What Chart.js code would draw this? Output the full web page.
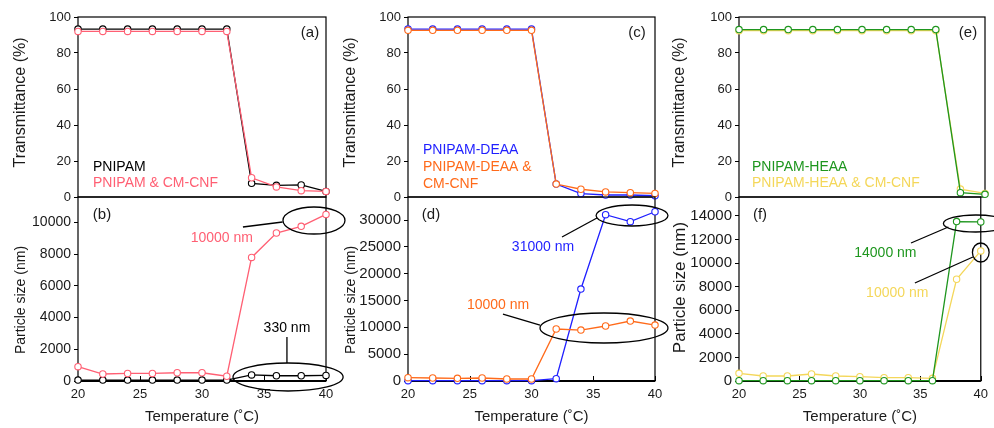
<!DOCTYPE html>
<html><head><meta charset="utf-8">
<script src="https://cdn.jsdelivr.net/npm/chart.js@4.4.0/dist/chart.umd.min.js"></script>
<style>
html,body{margin:0;padding:0;background:#fff;width:994px;height:428px;overflow:hidden}
canvas{position:absolute;left:0;top:0}
</style></head><body>
<canvas id="ca" width="994" height="428"></canvas>
<canvas id="cb" width="994" height="428"></canvas>
<canvas id="cc" width="994" height="428"></canvas>
<canvas id="cd" width="994" height="428"></canvas>
<canvas id="ce" width="994" height="428"></canvas>
<canvas id="cf" width="994" height="428"></canvas>
<script>
// ---------- data ----------
const temps = [20, 22, 24, 26, 28, 30, 32, 34, 36, 38, 40];
const xTickValues = [20, 25, 30, 35, 40];
const transTicks = [0, 20, 40, 60, 80, 100];
const sizeTicksB = [0, 2000, 4000, 6000, 8000, 10000];
const sizeTicksD = [0, 5000, 10000, 15000, 20000, 25000, 30000];
const sizeTicksF = [0, 2000, 4000, 6000, 8000, 10000, 12000, 14000];

const transPNIPAM      = [93.3, 93.3, 93.3, 93.3, 93.3, 93.3, 93.3, 7.6, 6.5, 6.7, 3.1];
const transPNIPAM_CNF  = [92.0, 92.0, 92.0, 92.0, 92.0, 92.0, 92.0, 10.7, 5.6, 3.5, 3.1];
const sizePNIPAM       = [60, 60, 60, 60, 60, 60, 60, 380, 330, 330, 350];
const sizePNIPAM_CNF   = [905, 440, 480, 480, 520, 520, 300, 7790, 9330, 9750, 10500];

const transDEAA        = [93.3, 93.3, 93.3, 93.3, 93.3, 93.3, 7.2, 1.9, 1.1, 1.1, 0.7];
const transDEAA_CNF    = [92.6, 92.6, 92.6, 92.6, 92.6, 92.6, 7.2, 4.3, 2.8, 2.4, 2.0];
const sizeDEAA         = [60, 60, 60, 60, 60, 60, 430, 17140, 31000, 29700, 31550];
const sizeDEAA_CNF     = [620, 560, 500, 560, 370, 370, 9690, 9500, 10250, 11180, 10430];

const transHEAA        = [93.0, 93.0, 93.0, 93.0, 93.0, 93.0, 93.0, 93.0, 93.0, 2.4, 1.5];
const transHEAA_CNF    = [92.4, 92.4, 92.4, 92.4, 92.4, 92.4, 92.4, 92.4, 92.4, 4.4, 2.0];
const sizeHEAA         = [30, 30, 30, 30, 30, 30, 30, 30, 30, 13520, 13490];
const sizeHEAA_CNF     = [650, 424, 424, 594, 424, 368, 283, 283, 226, 8625, 11030];

// ---------- styling ----------
const FONT = "'Liberation Sans', Arial, Helvetica, sans-serif";
const TXT = '#1a1a1a';
const C_BLACK = '#000000', C_PINK = '#ff5f73', C_BLUE = '#1f1fff',
      C_ORANGE = '#ff6a1a', C_GREEN = '#1e961e', C_YELLOW = '#f4d75a';

Chart.defaults.font.family = FONT;
Chart.defaults.color = TXT;
Chart.defaults.animation = false;

const W = 994, H = 428;
const COLS = [
  {x0: 0,   left: 78,  right: 326, titleDx: 57},
  {x0: 330, left: 408, right: 655, titleDx: 57},
  {x0: 660, left: 739, right: 985, titleDx: 59}
];
const ROWS = { top: {top: 17, bottom: 197}, bottom: {top: 197, bottom: 381} };

function decor(p) {
  return {
    id: 'decor_' + p.id,
    beforeDatasetsDraw(chart) {
      const {ctx, chartArea: a} = chart;
      ctx.save();
      ctx.strokeStyle = '#000';
      ctx.lineWidth = 1.2;
      ctx.strokeRect(a.left, a.top, a.right - a.left, a.bottom - a.top);
      if (p.row === 'bottom') {
        ctx.lineWidth = 2;
        ctx.beginPath(); ctx.moveTo(a.left, a.bottom); ctx.lineTo(a.right, a.bottom); ctx.stroke();
        ctx.lineWidth = 1;
        const xs = chart.scales.x;
        xTickValues.forEach(v => {
          const px = Math.round(xs.getPixelForValue(v)) + 0.5;
          ctx.beginPath(); ctx.moveTo(px, a.bottom); ctx.lineTo(px, a.bottom - 5); ctx.stroke();
        });
      }
      ctx.restore();
    },
    afterDraw(chart) {
      const {ctx, chartArea: a} = chart;
      const xs = chart.scales.x, ys = chart.scales.y;
      const col = COLS[p.col];
      ctx.save();
      ctx.fillStyle = TXT;
      ctx.font = p.yTitleSize + 'px ' + FONT;
      ctx.textAlign = 'center'; ctx.textBaseline = 'middle';
      ctx.translate(a.left - col.titleDx, (a.top + a.bottom) / 2 + p.yTitleShift);
      ctx.rotate(-Math.PI / 2);
      ctx.fillText(p.yTitle, 0, 0);
      ctx.restore();

      ctx.save();
      ctx.fillStyle = TXT;
      ctx.font = '15px ' + FONT;
      ctx.textAlign = 'center'; ctx.textBaseline = 'middle';
      const lx = p.label.fromRight ? a.right - p.label.dx : a.left + p.label.dx;
      ctx.fillText(p.label.text, lx, a.top + p.label.dy);
      ctx.font = '14px ' + FONT;
      ctx.textAlign = 'left';
      (p.legend || []).forEach(l => {
        ctx.fillStyle = l.color;
        ctx.fillText(l.text, a.left + l.dx, a.top + l.dy);
      });
      ctx.strokeStyle = '#000';
      ctx.lineWidth = 1.3;
      (p.notes || []).forEach(n => {
        if (n.type === 'ellipse') {
          const cx = xs.getPixelForValue(n.x), cy = ys.getPixelForValue(n.y);
          const rx = Math.abs(xs.getPixelForValue(n.x + n.rx) - cx);
          const ry = Math.abs(ys.getPixelForValue(n.y + n.ry) - cy);
          ctx.beginPath(); ctx.ellipse(cx, cy, rx, ry, 0, 0, Math.PI * 2); ctx.stroke();
        } else if (n.type === 'line') {
          ctx.beginPath();
          ctx.moveTo(xs.getPixelForValue(n.x1), ys.getPixelForValue(n.y1));
          ctx.lineTo(xs.getPixelForValue(n.x2), ys.getPixelForValue(n.y2));
          ctx.stroke();
        } else if (n.type === 'text') {
          ctx.fillStyle = n.color;
          ctx.font = '14px ' + FONT;
          ctx.textAlign = 'center';
          ctx.fillText(n.text, xs.getPixelForValue(n.x), ys.getPixelForValue(n.y));
        }
      });
      ctx.restore();
    }
  };
}

function makePanel(p) {
  const col = COLS[p.col];
  const row = ROWS[p.row];
  const isTop = p.row === 'top';
  const datasets = p.series.map(s => ({
    label: s.label,
    data: temps.map((t, i) => ({x: t, y: s.values[i]})),
    borderColor: s.color,
    backgroundColor: '#ffffff',
    pointBackgroundColor: '#ffffff',
    pointBorderColor: s.color,
    pointRadius: 3.2,
    pointBorderWidth: 1.1,
    borderWidth: 1.3,
    tension: 0,
    clip: false,
    order: s.order
  }));
  return new Chart(document.getElementById(p.id), {
    type: 'line',
    data: {datasets},
    options: {
      responsive: false,
      animation: false,
      events: [],
      layout: {padding: {left: col.x0, right: W - col.right, top: row.top, bottom: isTop ? H - row.bottom : 0}},
      plugins: {legend: {display: false}, tooltip: {enabled: false}},
      scales: {
        x: {
          type: 'linear', min: 20, max: 40, display: !isTop,
          ticks: {stepSize: 5, font: {size: 13}, padding: 6, color: TXT, maxRotation: 0, autoSkip: false,
                  callback: v => String(v)},
          grid: {display: false, drawTicks: false},
          border: {display: false},
          title: {display: true, text: 'Temperature (˚C)', font: {size: 15, lineHeight: 1.2}, color: TXT, padding: {top: 0, bottom: 2}},
          afterBuildTicks: s => { s.ticks = xTickValues.map(v => ({value: v})); },
          afterFit: s => { if (!isTop) s.height = H - row.bottom; }
        },
        y: {
          type: 'linear', min: 0, max: p.yMax,
          ticks: {font: {size: p.yTickSize}, padding: 3, color: TXT, callback: v => String(v)},
          grid: {drawOnChartArea: false, drawTicks: true, tickLength: 4, color: '#000'},
          border: {display: false},
          afterBuildTicks: s => { s.ticks = p.yTicks.map(v => ({value: v})); },
          afterFit: s => { s.width = col.left - col.x0; }
        }
      }
    },
    plugins: [decor(p)]
  });
}

// (a)
makePanel({
  id: 'ca', col: 0, row: 'top', yMax: 100, yTicks: transTicks, yTickSize: 13,
  yTitle: 'Transmittance (%)', yTitleSize: 16, yTitleShift: -4.5,
  label: {text: '(a)', fromRight: true, dx: 16, dy: 16},
  legend: [
    {text: 'PNIPAM', color: C_BLACK, dx: 15, dy: 150},
    {text: 'PNIPAM & CM-CNF', color: C_PINK, dx: 15, dy: 166}
  ],
  series: [
    {label: 'PNIPAM', values: transPNIPAM, color: C_BLACK, order: 2},
    {label: 'PNIPAM & CM-CNF', values: transPNIPAM_CNF, color: C_PINK, order: 1}
  ]
});
// (b)
makePanel({
  id: 'cb', col: 0, row: 'bottom', yMax: 11600, yTicks: sizeTicksB, yTickSize: 14,
  yTitle: 'Particle size (nm)', yTitleSize: 14, yTitleShift: 11,
  label: {text: '(b)', fromRight: false, dx: 24, dy: 18},
  notes: [
    {type: 'text', text: '10000 nm', color: C_PINK, x: 31.6, y: 9015},
    {type: 'line', x1: 33.3, y1: 9708, x2: 36.5, y2: 10023},
    {type: 'ellipse', x: 39.03, y: 10118, rx: 2.5, ry: 851},
    {type: 'text', text: '330 nm', color: C_BLACK, x: 36.85, y: 3341},
    {type: 'line', x1: 36.85, y1: 2774, x2: 36.85, y2: 1135},
    {type: 'ellipse', x: 36.94, y: 252, rx: 4.44, ry: 883}
  ],
  series: [
    {label: 'PNIPAM', values: sizePNIPAM, color: C_BLACK, order: 2},
    {label: 'PNIPAM & CM-CNF', values: sizePNIPAM_CNF, color: C_PINK, order: 1}
  ]
});
// (c)
makePanel({
  id: 'cc', col: 1, row: 'top', yMax: 100, yTicks: transTicks, yTickSize: 13,
  yTitle: 'Transmittance (%)', yTitleSize: 16, yTitleShift: -4.5,
  label: {text: '(c)', fromRight: true, dx: 18, dy: 16},
  legend: [
    {text: 'PNIPAM-DEAA', color: C_BLUE, dx: 15, dy: 133},
    {text: 'PNIPAM-DEAA &', color: C_ORANGE, dx: 15, dy: 150},
    {text: 'CM-CNF', color: C_ORANGE, dx: 15, dy: 167}
  ],
  series: [
    {label: 'PNIPAM-DEAA', values: transDEAA, color: C_BLUE, order: 2},
    {label: 'PNIPAM-DEAA & CM-CNF', values: transDEAA_CNF, color: C_ORANGE, order: 1}
  ]
});
// (d)
makePanel({
  id: 'cd', col: 1, row: 'bottom', yMax: 34300, yTicks: sizeTicksD, yTickSize: 15,
  yTitle: 'Particle size (nm)', yTitleSize: 14, yTitleShift: 11,
  label: {text: '(d)', fromRight: false, dx: 23, dy: 18},
  notes: [
    {type: 'text', text: '31000 nm', color: C_BLUE, x: 30.93, y: 24978},
    {type: 'line', x1: 32.47, y1: 26842, x2: 35.30, y2: 30383},
    {type: 'ellipse', x: 38.14, y: 30849, rx: 2.91, ry: 1957},
    {type: 'text', text: '10000 nm', color: C_ORANGE, x: 27.29, y: 14166},
    {type: 'line', x1: 27.69, y1: 12489, x2: 30.69, y2: 10438},
    {type: 'ellipse', x: 35.87, y: 9879, rx: 5.18, ry: 2796}
  ],
  series: [
    {label: 'PNIPAM-DEAA', values: sizeDEAA, color: C_BLUE, order: 2},
    {label: 'PNIPAM-DEAA & CM-CNF', values: sizeDEAA_CNF, color: C_ORANGE, order: 1}
  ]
});
// (e)
makePanel({
  id: 'ce', col: 2, row: 'top', yMax: 100, yTicks: transTicks, yTickSize: 13,
  yTitle: 'Transmittance (%)', yTitleSize: 16, yTitleShift: -4.5,
  label: {text: '(e)', fromRight: true, dx: 17, dy: 16},
  legend: [
    {text: 'PNIPAM-HEAA', color: C_GREEN, dx: 13, dy: 150},
    {text: 'PNIPAM-HEAA & CM-CNF', color: C_YELLOW, dx: 13, dy: 166}
  ],
  series: [
    {label: 'PNIPAM-HEAA', values: transHEAA, color: C_GREEN, order: 1},
    {label: 'PNIPAM-HEAA & CM-CNF', values: transHEAA_CNF, color: C_YELLOW, order: 2}
  ]
});
// (f)
makePanel({
  id: 'cf', col: 2, row: 'bottom', yMax: 15600, yTicks: sizeTicksF, yTickSize: 15,
  yTitle: 'Particle size (nm)', yTitleSize: 17, yTitleShift: -1.5,
  label: {text: '(f)', fromRight: false, dx: 21, dy: 18},
  notes: [
    {type: 'text', text: '14000 nm', color: C_GREEN, x: 32.11, y: 10852},
    {type: 'line', x1: 34.23, y1: 11700, x2: 37.32, y2: 13056},
    {type: 'ellipse', x: 39.59, y: 13353, rx: 2.68, ry: 721},
    {type: 'text', text: '10000 nm', color: C_YELLOW, x: 33.09, y: 7461},
    {type: 'line', x1: 34.55, y1: 8308, x2: 39.35, y2: 10513},
    {type: 'ellipse', x: 40, y: 10894, rx: 0.69, ry: 805}
  ],
  series: [
    {label: 'PNIPAM-HEAA', values: sizeHEAA, color: C_GREEN, order: 1},
    {label: 'PNIPAM-HEAA & CM-CNF', values: sizeHEAA_CNF, color: C_YELLOW, order: 2}
  ]
});
</script>
</body></html>
